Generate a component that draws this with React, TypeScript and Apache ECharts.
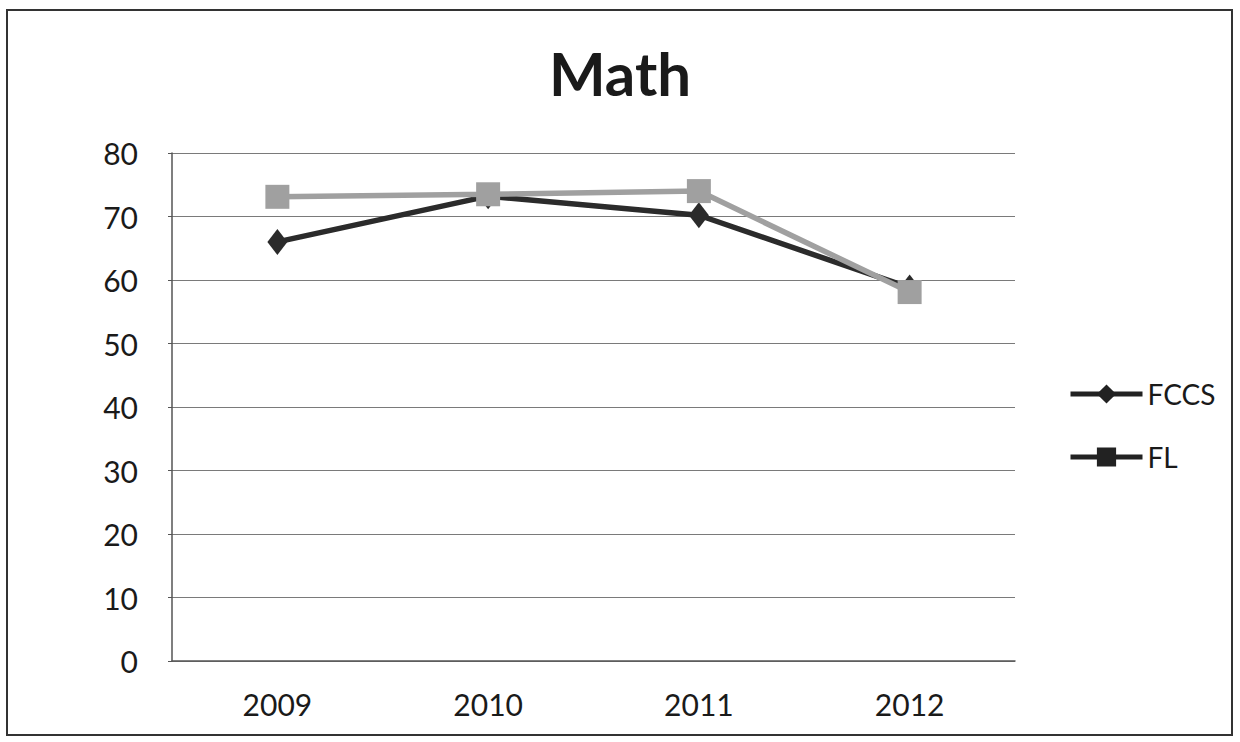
import React, { useEffect, useRef } from "react";
import * as echarts from "echarts";

const categories = ["2009", "2010", "2011", "2012"];
const fccsValues = [66.0, 73.2, 70.2, 58.8];
const flValues = [73.1, 73.5, 74.0, 58.1];
const titleText = "Math";

export default function App() {
  const ref = useRef<HTMLDivElement>(null);
  useEffect(() => {
    if (!ref.current) return;
    const chart = echarts.init(ref.current, undefined, { renderer: "svg" });
    const font = "Lato, 'Open Sans', sans-serif";
    chart.setOption({
      animation: false,
      backgroundColor: "#ffffff",
      title: {
        text: titleText,
        left: "center",
        top: 38,
        textStyle: { fontSize: 60, fontWeight: "bold", color: "#1a1a1a", fontFamily: font },
      },
      graphic: [
        {
          type: "rect",
          shape: { x: 7, y: 10, width: 1225, height: 725 },
          style: { fill: "none", stroke: "#333", lineWidth: 2 },
        },
      ],
      legend: {
        orient: "vertical",
        left: 1063,
        top: 375,
        itemWidth: 72,
        itemHeight: 24,
        itemGap: 35,
        textStyle: { fontSize: 28, color: "#1a1a1a", fontFamily: font },
        data: [
          { name: "FCCS", itemStyle: { color: "#222" }, lineStyle: { color: "#222", width: 5 } },
          { name: "FL", itemStyle: { color: "#222" }, lineStyle: { color: "#222", width: 5 } },
        ],
      },
      grid: { left: 172, right: 225, top: 153, bottom: 81, containLabel: false },
      xAxis: {
        type: "category",
        data: categories,
        boundaryGap: true,
        axisLine: { lineStyle: { color: "#555", width: 1.5 } },
        axisTick: { show: false },
        axisLabel: { fontSize: 30, color: "#1a1a1a", fontFamily: font, margin: 28 },
      },
      yAxis: {
        type: "value",
        min: 0,
        max: 80,
        interval: 10,
        axisLine: { show: true, lineStyle: { color: "#555", width: 1.5 } },
        axisTick: { show: true, length: 4, lineStyle: { color: "#555" } },
        axisLabel: { fontSize: 30, color: "#1a1a1a", fontFamily: font, margin: 34 },
        splitLine: { lineStyle: { color: "#7a7a7a", width: 1.2 } },
      },
      series: [
        {
          name: "FCCS",
          type: "line",
          data: fccsValues,
          symbol: "diamond",
          symbolSize: [20, 26],
          lineStyle: { color: "#2b2b2b", width: 5.5 },
          itemStyle: { color: "#2b2b2b" },
          z: 2,
        },
        {
          name: "FL",
          type: "line",
          data: flValues,
          symbol: "rect",
          symbolSize: 24,
          lineStyle: { color: "#a0a0a0", width: 5.5 },
          itemStyle: { color: "#a0a0a0" },
          z: 3,
        },
      ],
    });
    return () => chart.dispose();
  }, []);
  return (
    <div
      ref={ref}
      style={{ position: "absolute", left: 0, top: 0, width: 1240, height: 742 }}
    />
  );
}
